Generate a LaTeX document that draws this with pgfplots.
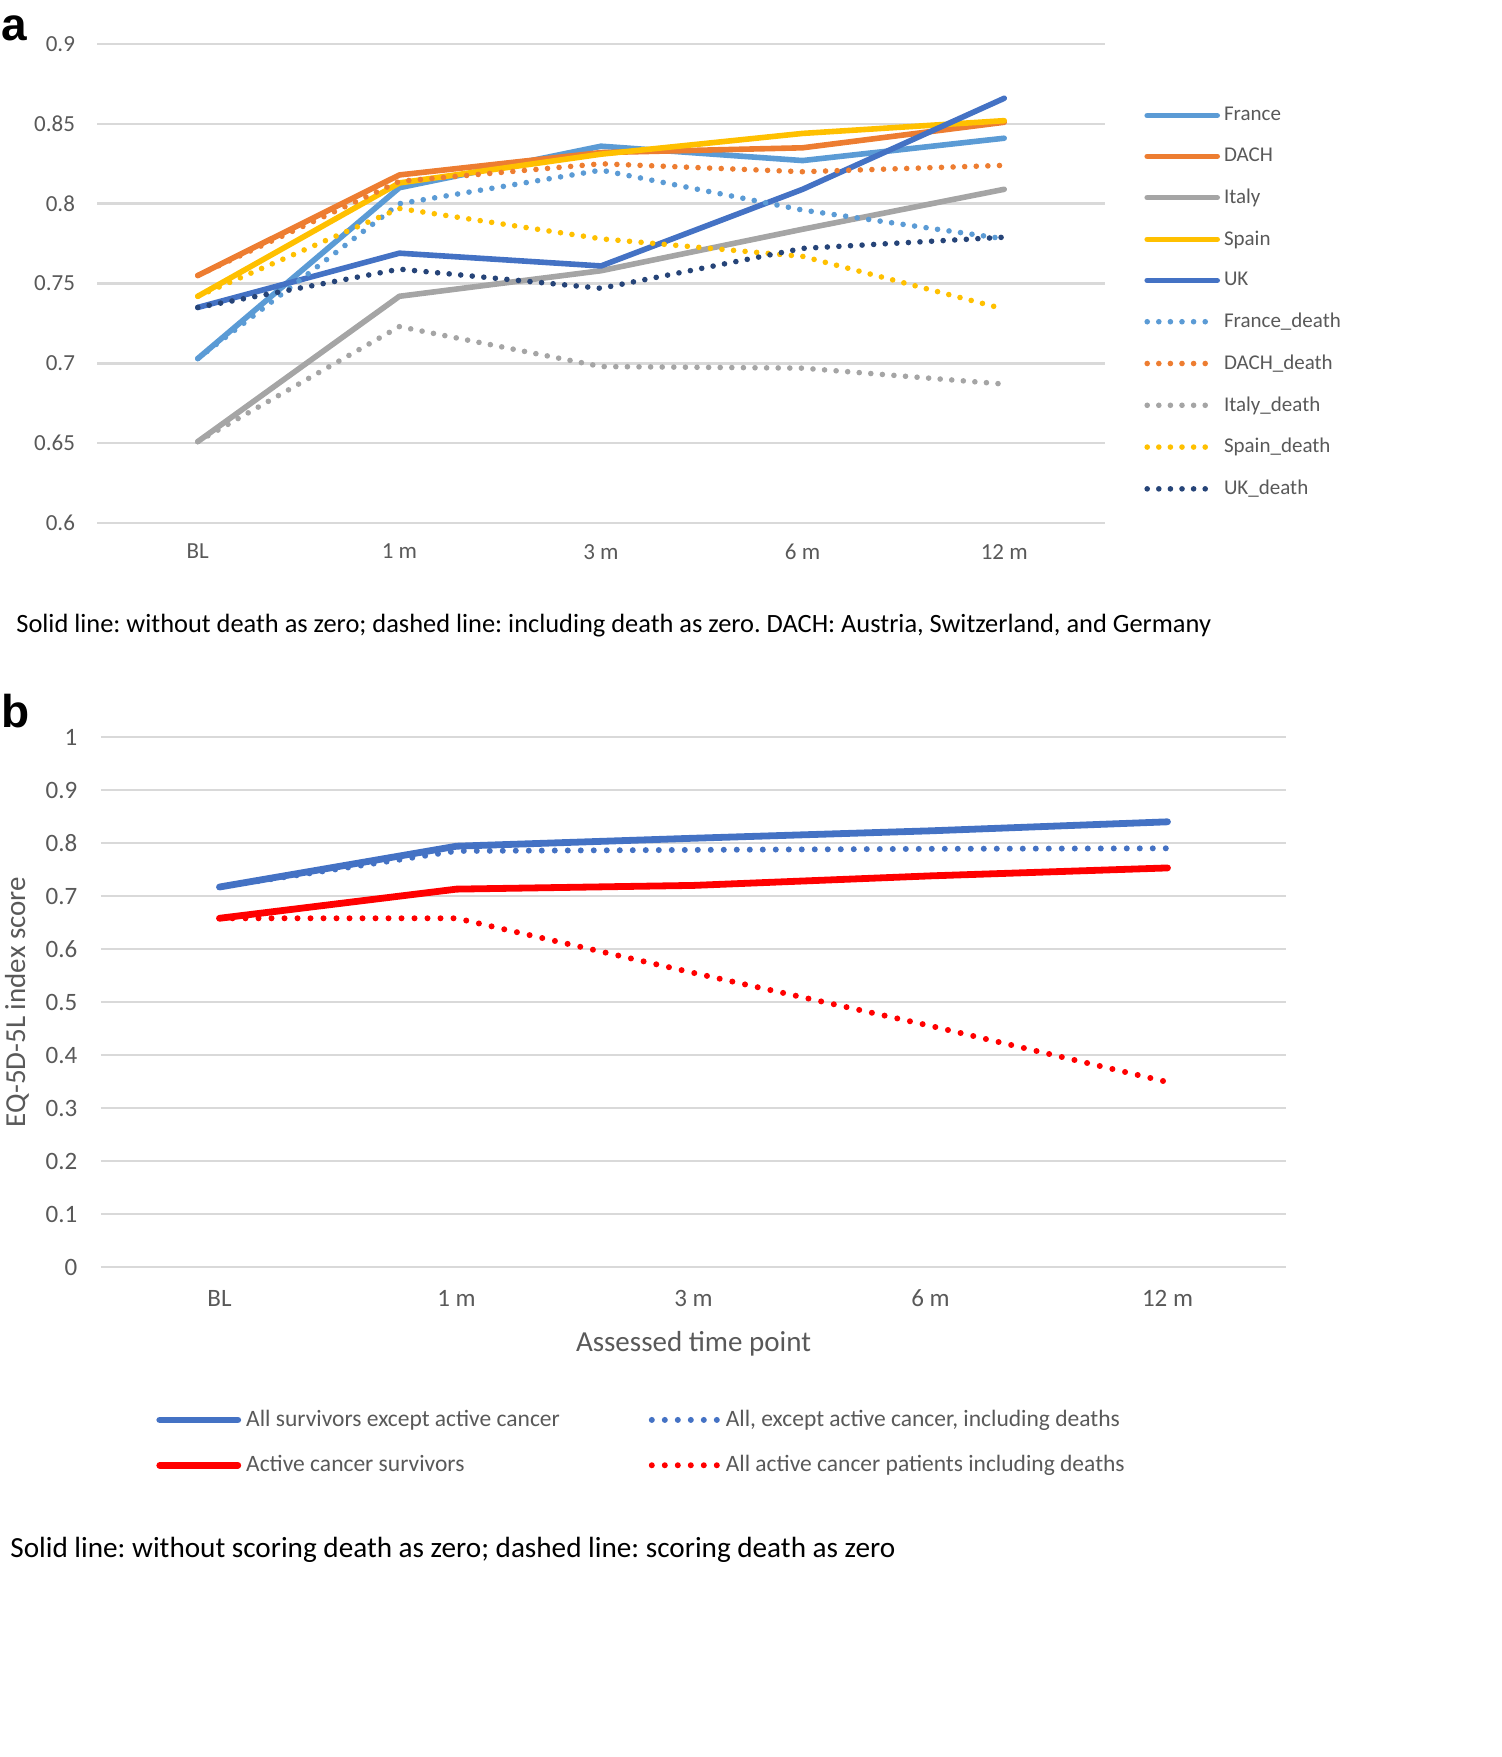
\documentclass[border=0pt]{standalone}
\usepackage{fontspec}
\setmainfont{Carlito}
\newfontfamily\lab{Liberation Sans}
\usepackage{pgfplots}
\usepackage{pgfplotstable}
\pgfplotsset{compat=1.18}

\definecolor{cFr}{HTML}{5B9BD5}
\definecolor{cDa}{HTML}{ED7D31}
\definecolor{cIt}{HTML}{A5A5A5}
\definecolor{cSp}{HTML}{FFC000}
\definecolor{cUK}{HTML}{4472C4}
\definecolor{cUKd}{HTML}{264478}
\definecolor{cRed}{HTML}{FF0000}
\definecolor{gridc}{HTML}{D9D9D9}
\definecolor{txt}{HTML}{595959}

% panel a: mean index by country (x: 0=BL,1=1m,2=3m,3=6m,4=12m)
\pgfplotstableread{
x France DACH Italy Spain UK Frd DAd Itd Spd UKd
0 0.703 0.755 0.651 0.742 0.735 0.703 0.755 0.651 0.742 0.735
1 0.810 0.818 0.742 0.813 0.769 0.800 0.814 0.723 0.797 0.759
2 0.836 0.832 0.758 0.831 0.761 0.821 0.825 0.698 0.778 0.747
3 0.827 0.835 0.784 0.844 0.809 0.796 0.820 0.697 0.767 0.772
4 0.841 0.851 0.809 0.852 0.866 0.778 0.824 0.687 0.734 0.779
}\dataa

% panel b: by cancer status
\pgfplotstableread{
x All Alld Act Actd
0 0.717 0.717 0.658 0.658
1 0.794 0.785 0.713 0.658
2 0.809 0.787 0.720 0.555
3 0.823 0.789 0.738 0.455
4 0.840 0.790 0.753 0.349
}\datab

\tikzset{
  solidA/.style={line width=2.8pt},
  dotA/.style={line width=2.8pt, dash pattern=on 0pt off 5.8pt},
  solidB/.style={line width=3.4pt},
  dotB/.style={line width=3pt, dash pattern=on 0pt off 6.5pt},
}
% legend line of a given length
\pgfplotsset{leg/.style={legend image code/.code={\draw[##1] (0pt,0pt) -- (#1,0pt);}}}

\begin{document}
\frenchspacing
\begin{tikzpicture}[x=1pt,y=1pt]

\begin{axis}[
  scale only axis, width=504pt, height=239.5pt,
  at={(48.5pt,-261.5pt)}, anchor=south west,
  xmin=-0.5, xmax=4.5, ymin=0.6, ymax=0.9,
  xtick={0,1,2,3,4}, xticklabels={BL,1 m,3 m,6 m,12 m},
  ytick={0.6,0.65,0.7,0.75,0.8,0.85,0.9},
  yticklabel style={/pgf/number format/fixed, /pgf/number format/precision=2, xshift=-7.5pt},
  xticklabel style={yshift=-7pt},
  /pgf/number format/assume math mode=true,
  axis line style={draw=none}, major tick length=0pt,
  ymajorgrids, grid style={draw=gridc, line width=1.2pt},
  tick label style={font=\fontsize{11.5}{13}\selectfont, text=txt},
  every axis plot/.append style={line join=round, line cap=round},
  leg=35pt,
  legend style={at={(axis description cs:1.0387,0.877)}, anchor=north west,
    draw=none, fill=none, inner sep=0pt, row sep=8.1pt,
    font=\fontsize{10.5}{12}\selectfont, text=txt, cells={anchor=west},
    nodes={inner xsep=2pt}},
]
\addplot[cFr, solidA] table[x=x,y=France] {\dataa};
\addplot[cDa, solidA] table[x=x,y=DACH] {\dataa};
\addplot[cIt, solidA] table[x=x,y=Italy] {\dataa};
\addplot[cSp, solidA] table[x=x,y=Spain] {\dataa};
\addplot[cUK, solidA] table[x=x,y=UK] {\dataa};
\addplot[cFr, dotA, leg=30pt] table[x=x,y=Frd] {\dataa};
\addplot[cDa, dotA, leg=30pt] table[x=x,y=DAd] {\dataa};
\addplot[cIt, dotA, leg=30pt] table[x=x,y=Itd] {\dataa};
\addplot[cSp, dotA, leg=30pt] table[x=x,y=Spd] {\dataa};
\addplot[cUKd, dotA, leg=30pt] table[x=x,y=UKd] {\dataa};
\legend{France,DACH,Italy,Spain,UK,France\_death,DACH\_death,Italy\_death,Spain\_death,UK\_death}
\end{axis}

\begin{axis}[
  scale only axis, width=592.5pt, height=265pt,
  at={(50.5pt,-633.5pt)}, anchor=south west,
  xmin=-0.5, xmax=4.5, ymin=0, ymax=1,
  xtick={0,1,2,3,4}, xticklabels={BL,1 m,3 m,6 m,12 m},
  ytick={0,0.1,0.2,0.3,0.4,0.5,0.6,0.7,0.8,0.9,1},
  yticklabel style={/pgf/number format/fixed, xshift=-8.3pt},
  xticklabel style={yshift=-8pt},
  /pgf/number format/assume math mode=true,
  axis line style={draw=none}, major tick length=0pt,
  ymajorgrids, grid style={draw=gridc, line width=1.2pt},
  tick label style={font=\fontsize{12.5}{14}\selectfont, text=txt},
  xlabel={Assessed time point},
  ylabel={EQ-5D-5L index score},
  label style={font=\fontsize{14.5}{16}\selectfont, text=txt},
  xlabel style={at={(axis description cs:0.5,-0.1453)}, anchor=center},
  ylabel style={at={(axis description cs:-0.0709,0.5)}, anchor=center},
  every axis plot/.append style={line join=round, line cap=round},
  legend columns=2,
  legend style={at={(axis description cs:0.0464,-0.262)}, anchor=north west,
    draw=none, fill=none, inner sep=0pt, row sep=9pt,
    font=\fontsize{11.75}{13}\selectfont, text=txt, cells={anchor=west},
    nodes={inner xsep=2.5pt}},
]
\addplot[cUK, solidB, leg=39pt] table[x=x,y=All] {\datab};
\addplot[cUK, dotB, leg=33pt] table[x=x,y=Alld] {\datab};
\addplot[cRed, solidB, leg=39pt] table[x=x,y=Act] {\datab};
\addplot[cRed, dotB, leg=33pt] table[x=x,y=Actd] {\datab};
\addlegendentry{All survivors except active cancer\hspace*{42pt}}
\addlegendentry{All, except active cancer, including deaths}
\addlegendentry{Active cancer survivors}
\addlegendentry{All active cancer patients including deaths}
\end{axis}

\node[anchor=base west, inner sep=0pt, font=\lab\bfseries\fontsize{23}{26}\selectfont] at (0.5,-20) {a};
\node[anchor=base west, inner sep=0pt, font=\lab\bfseries\fontsize{23}{26}\selectfont] at (0.5,-363.5) {b};
\node[anchor=west, inner sep=0pt, font=\fontsize{13.2}{15}\selectfont] at (8,-313)
  {Solid line: without death as zero; dashed line: including death as zero. DACH: Austria, Switzerland, and Germany};
\node[anchor=west, inner sep=0pt, font=\fontsize{14.6}{17}\selectfont] at (5,-775)
  {Solid line: without scoring death as zero; dashed line: scoring death as zero};

\pgfresetboundingbox
\path[use as bounding box] (0,0) rectangle (751,-878.5);
\end{tikzpicture}
\end{document}
